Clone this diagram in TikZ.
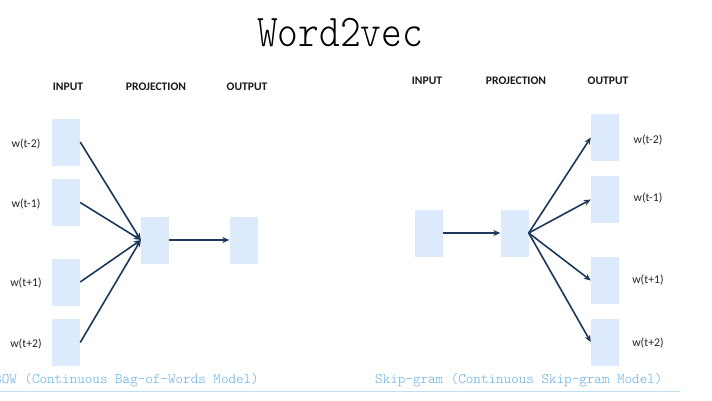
\documentclass[tikz,border=0pt]{standalone}
\usepackage{fontspec}
\setmainfont{Carlito}
\newfontfamily\titlemono{lmmonolt10-regular.otf}
\usetikzlibrary{arrows.meta}
\definecolor{boxblue}{RGB}{220,234,251}
\definecolor{arrowc}{RGB}{28,56,90}
\definecolor{capblue}{RGB}{100,174,228}
\definecolor{lineblue}{RGB}{190,222,242}
\begin{document}
\begin{tikzpicture}[x=1pt,y=-1pt,
  vbox/.style={rectangle,fill=boxblue,draw=none,minimum width=28pt,minimum height=47pt,inner sep=0pt},
  head/.style={font=\fontsize{11.6}{13}\selectfont\bfseries,text=black!90},
  wlab/.style={font=\fontsize{11.8}{13}\selectfont,text=black!85},
  arr/.style={draw=arrowc,line width=1.6pt,-{Stealth[length=7pt,width=6pt]}},
  captext/.style={font=\fontsize{14.4}{16}\titlemono,text=capblue,inner sep=0pt}]
\useasboundingbox (0,0) rectangle (712,400);
\fill[white] (0,0) rectangle (712,400);
% title
\node[font=\fontsize{39.5}{44}\titlemono,inner sep=0pt] (title) at (340,33) {\scalebox{1}[1.15]{Word2vec}};
% left: CBOW
\node[head] (lin) at (68,87) {INPUT};
\node[head] (lproj) at (156,87) {PROJECTION};
\node[head] (lout) at (247,87) {OUTPUT};
\node[vbox] (in1) at (66,142) {};
\node[vbox] (in2) at (66,202.5) {};
\node[vbox] (in3) at (66,282) {};
\node[vbox] (in4) at (66,342.5) {};
\node[vbox] (proj) at (155,240) {};
\node[vbox] (out) at (243.5,240) {};
\node[wlab] (l1) at (26,144) {w(t-2)};
\node[wlab] (l2) at (26,204) {w(t-1)};
\node[wlab] (l3) at (26,283) {w(t+1)};
\node[wlab] (l4) at (26,344) {w(t+2)};
\foreach \i in {1,2,3,4} \draw[arr] (in\i.east) -- (proj.west);
\draw[arr] (proj.east) -- (out.west);
% right: skip-gram
\node[head] (rin) at (427,81) {INPUT};
\node[head] (rproj) at (516,81) {PROJECTION};
\node[head] (rout) at (608,81) {OUTPUT};
\node[vbox] (rinb) at (428.5,233) {};
\node[vbox] (rprojb) at (514.5,233) {};
\node[vbox] (o1) at (605,137.5) {};
\node[vbox] (o2) at (605,199.5) {};
\node[vbox] (o3) at (605,280.5) {};
\node[vbox] (o4) at (605,342) {};
\node[wlab] (r1) at (648,140) {w(t-2)};
\node[wlab] (r2) at (648,198) {w(t-1)};
\node[wlab] (r3) at (648,280) {w(t+1)};
\node[wlab] (r4) at (648,343) {w(t+2)};
\draw[arr] (rinb.east) -- (rprojb.west);
\foreach \i in {1,2,3,4} \draw[arr] (rprojb.east) -- (o\i.west);
% captions
\begin{scope}
\clip (0,0) rectangle (712,400);
\node[captext,anchor=east] (capl) at (259,380) {CBOW (Continuous Bag-of-Words Model)};
\end{scope}
\node[captext,anchor=west] (capr) at (375,380) {Skip-gram (Continuous Skip-gram Model)};
\coordinate (ls) at (0,391);
\coordinate (le) at (680,391);
\draw[lineblue,line width=0.8pt] (ls) -- (le);
\end{tikzpicture}
\end{document}
